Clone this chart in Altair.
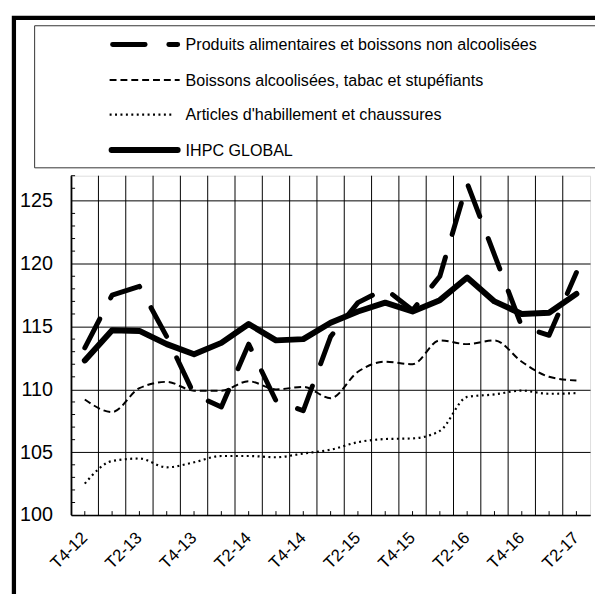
import altair as alt
import pandas as pd

# ---- data ----
quarters = ["T4-12", "T1-13", "T2-13", "T3-13", "T4-13", "T1-14", "T2-14", "T3-14", "T4-14",
            "T1-15", "T2-15", "T3-15", "T4-15", "T1-16", "T2-16", "T3-16", "T4-16", "T1-17", "T2-17"]
labelled_quarters = quarters[::2]

food = [113.3, 117.5, 118.2, 114.2, 109.6, 108.6, 113.6, 109.1, 108.3, 114.2,
        116.9, 118.0, 116.3, 119.0, 126.4, 120.7, 115.0, 114.3, 119.3]
beverages = [109.2, 108.2, 110.1, 110.6, 109.9, 109.9, 110.65, 110.0, 110.2, 109.3,
             111.4, 112.2, 112.0, 113.9, 113.6, 113.9, 112.2, 111.0, 110.7]
clothing = [102.5, 104.3, 104.5, 103.8, 104.2, 104.7, 104.7, 104.6, 104.9, 105.2,
            105.8, 106.05, 106.1, 106.7, 109.4, 109.6, 109.9, 109.65, 109.7]
global_index = [112.3, 114.7, 114.65, 113.6, 112.8, 113.7, 115.2, 113.9, 114.0, 115.3,
                116.2, 116.9, 116.2, 117.1, 118.9, 117.0, 116.0, 116.1, 117.6]

series_names = ["Produits alimentaires et boissons non alcoolisées",
                "Boissons alcoolisées, tabac et stupéfiants",
                "Articles d'habillement et chaussures",
                "IHPC GLOBAL"]
series_values = [food, beverages, clothing, global_index]

y_major = [100, 105, 110, 115, 120, 125]
y_minor = [v for v in range(100, 128) if v % 5 != 0]

# ---- layout ----
W, H = 526, 344
FONT = "Liberation Sans"

rows = []
for name, vals in zip(series_names, series_values):
    for q, v in zip(quarters, vals):
        rows.append({"quarter": q, "series": name, "value": v})
df = pd.DataFrame(rows)

xscale = alt.Scale(type="band", domain=quarters, paddingInner=0, paddingOuter=0)
yscale = alt.Scale(domain=[100, 127], nice=False, zero=False)

x_axis = alt.Axis(values=labelled_quarters, title=None, grid=False, ticks=False,
                  domain=True, domainColor="black", domainWidth=1.5,
                  labelAngle=-45, labelAlign="right", labelBaseline="middle",
                  labelPadding=20, labelFontSize=17, labelFont=FONT,
                  labelColor="black")
y_axis = alt.Axis(values=y_major, title=None, grid=True, gridColor="black",
                  gridWidth=1, ticks=False, domain=True, domainColor="black",
                  domainWidth=1.5, labelFontSize=20, labelFont=FONT,
                  labelColor="black", labelPadding=19)

styles = [
    dict(strokeWidth=5, strokeDash=[33, 24], strokeCap="round", strokeJoin="round"),
    dict(strokeWidth=2, strokeDash=[7, 4], interpolate="monotone"),
    dict(strokeWidth=2.2, strokeDash=[2, 3.5], interpolate="monotone"),
    dict(strokeWidth=6, strokeCap="round", strokeJoin="round"),
]

one = pd.DataFrame({"k": [0]})

# outer thick frame (cropped at right/bottom like the reference)
frame = alt.Chart(one).mark_rect(fill=None, stroke="black", strokeWidth=4.3).encode(
    x=alt.value(-58), x2=alt.value(600), y=alt.value(-160), y2=alt.value(520))

# legend box
legend_box = alt.Chart(one).mark_rect(fill="white", stroke="#333", strokeWidth=1).encode(
    x=alt.value(-37), x2=alt.value(600), y=alt.value(-152), y2=alt.value(-8))

qdf = pd.DataFrame({"quarter": quarters})

# vertical grid at band boundaries
vgrid = alt.Chart(qdf).mark_rule(color="black", strokeWidth=1).encode(
    x=alt.X("quarter:N", scale=xscale, bandPosition=0, axis=x_axis))

# inner ticks at band centres on the bottom
xticks = alt.Chart(qdf).mark_rule(color="black", strokeWidth=1).encode(
    x=alt.X("quarter:N", scale=xscale, bandPosition=0.5, axis=x_axis),
    y=alt.value(H - 4), y2=alt.value(H))

# minor y ticks, inside
yticks = alt.Chart(pd.DataFrame({"value": y_minor})).mark_rule(
    color="black", strokeWidth=1).encode(
    y=alt.Y("value:Q", scale=yscale, axis=y_axis),
    x=alt.value(0), x2=alt.value(4))

base_x = alt.X("quarter:N", scale=xscale, bandPosition=0.5, axis=x_axis)
base_y = alt.Y("value:Q", scale=yscale, axis=y_axis)

line_layers = []
for name, st in zip(series_names, styles):
    line_layers.append(
        alt.Chart(df).transform_filter(alt.datum.series == name)
        .mark_line(color="black", **st)
        .encode(x=base_x, y=base_y)
    )
# draw global on top
order = [1, 2, 0, 3]
line_layers = [line_layers[i] for i in order]

# manual legend
leg_rows = [-133, -97, -62, -26]
leg_x = [(42, 108), (39, 110), (39, 104), (41, 108)]
legend_layers = []
for name, st, yy, (x1, x2) in zip(series_names, styles, leg_rows, leg_x):
    st2 = {k: v for k, v in st.items() if k != "interpolate"}
    legend_layers.append(
        alt.Chart(one).mark_rule(color="black", **st2).encode(
            x=alt.value(x1), x2=alt.value(x2), y=alt.value(yy)))
    legend_layers.append(
        alt.Chart(one).mark_text(align="left", baseline="middle", fontSize=16.3,
                                 font=FONT, color="black").encode(
            x=alt.value(116), y=alt.value(yy + 1), text=alt.value(name)))

chart = alt.layer(
    frame, legend_box, vgrid, yticks, xticks, *line_layers, *legend_layers
).properties(
    width=W, height=H,
    autosize=alt.AutoSizeParams(type="none"),
    padding={"left": 64, "top": 166, "right": 5, "bottom": 76},
    background="white",
).configure_view(
    stroke="#666", strokeWidth=2
).configure(font=FONT)

chart.save("out.html", embed_options={"renderer": "svg", "actions": False})
